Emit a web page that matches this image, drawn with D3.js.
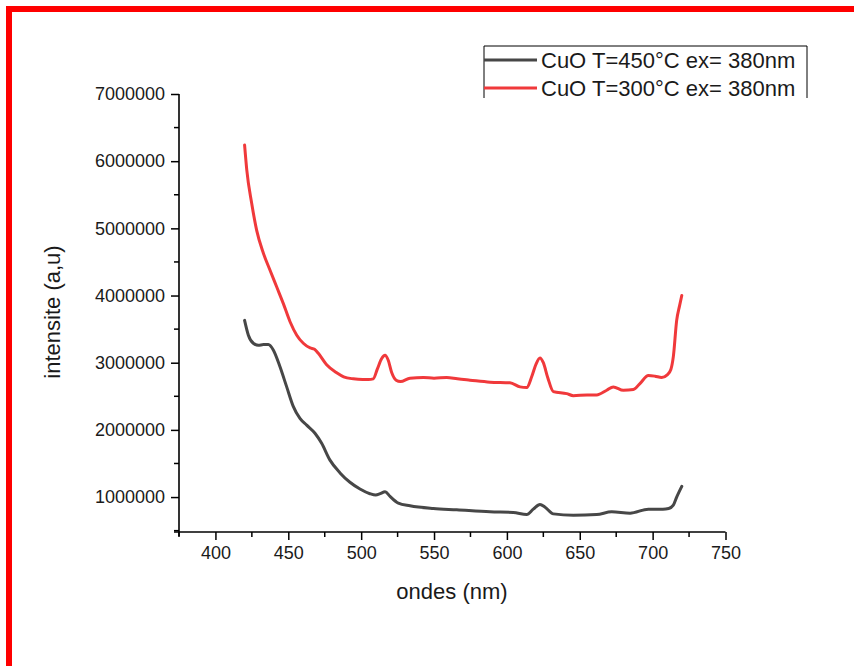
<!DOCTYPE html>
<html>
<head>
<meta charset="utf-8">
<script src="https://cdn.jsdelivr.net/npm/d3@7"></script>
<style>
  body { margin: 0; background: #fff; }
  svg { display: block; font-family: "Liberation Sans", Arial, sans-serif; }
</style>
</head>
<body>
<svg id="chart" width="854" height="666"></svg>
<script>
// wavelength (nm) and intensity
const wave450 = [420, 422.6, 426, 429.4, 433, 436.3, 439.7, 444.3, 448.9, 453.4, 458, 462.6, 468.3, 472.9, 478.6, 485.5, 492.3, 499.2, 506, 510, 513, 516.4, 519.8, 525.5, 533.5, 549.5, 565.6, 588.4, 604.4, 613.6, 618.1, 622.7, 626.2, 631.9, 645.6, 661.6, 671.9, 684.5, 697.1, 707, 711, 714.2, 716.5, 720];
const int450 = [3630000, 3410000, 3290000, 3260000, 3270000, 3270000, 3190000, 2940000, 2640000, 2350000, 2170000, 2070000, 1950000, 1800000, 1550000, 1360000, 1220000, 1120000, 1050000, 1030000, 1050000, 1080000, 1010000, 910000, 870000, 830000, 810000, 780000, 770000, 740000, 820000, 890000, 850000, 750000, 730000, 740000, 780000, 760000, 820000, 820000, 830000, 880000, 1000000, 1160000];

const wave300 = [420, 421.5, 424.9, 428.3, 432.9, 437.4, 442, 446.6, 451.2, 455.8, 460.3, 465, 468, 470.6, 476.3, 483.2, 488, 494.6, 501, 505, 508.3, 511, 514, 516.4, 518.5, 521, 524, 527, 533.5, 542.7, 550, 558.7, 566, 574.7, 588.4, 602.1, 609, 613.6, 617, 620, 622.7, 625, 628, 631.9, 641, 645.6, 655, 661.6, 668.5, 673, 679.9, 686.8, 691.3, 697.1, 701.6, 706.2, 710, 712.5, 714.2, 716.5, 718.5, 720];
const int300 = [6240000, 5870000, 5370000, 4970000, 4630000, 4380000, 4130000, 3880000, 3610000, 3410000, 3290000, 3220000, 3200000, 3140000, 2970000, 2850000, 2790000, 2760000, 2750000, 2750000, 2760000, 2900000, 3060000, 3110000, 3040000, 2850000, 2740000, 2720000, 2770000, 2780000, 2770000, 2780000, 2760000, 2740000, 2710000, 2700000, 2640000, 2630000, 2790000, 2980000, 3070000, 3000000, 2780000, 2570000, 2540000, 2510000, 2520000, 2520000, 2590000, 2640000, 2590000, 2600000, 2690000, 2810000, 2800000, 2780000, 2820000, 2900000, 3090000, 3630000, 3850000, 4000000];

const seriesNames = ["CuO T=450°C ex= 380nm", "CuO T=300°C ex= 380nm"];
const seriesColors = ["#474747", "#f0393b"];
const xTicks = [400, 450, 500, 550, 600, 650, 700, 750];
const yTicks = [1000000, 2000000, 3000000, 4000000, 5000000, 6000000, 7000000];

const svg = d3.select("#chart");

// red frame (left and top only)
svg.append("rect").attr("x", 6).attr("y", 6).attr("width", 6).attr("height", 660).attr("fill", "#ff0000");
svg.append("rect").attr("x", 6).attr("y", 6).attr("width", 848).attr("height", 6).attr("fill", "#ff0000");

const x = d3.scaleLinear().domain([375, 750]).range([179, 725.5]);
const y = d3.scaleLinear().domain([480000, 7000000]).range([532, 94]);

const series = [
  { name: seriesNames[0], color: seriesColors[0], pts: wave450.map((w, i) => [w, int450[i]]) },
  { name: seriesNames[1], color: seriesColors[1], pts: wave300.map((w, i) => [w, int300[i]]) }
];

const line = d3.line()
  .x(d => x(d[0]))
  .y(d => y(d[1]))
  .curve(d3.curveMonotoneX);

series.forEach(s => {
  svg.append("path")
    .attr("d", line(s.pts))
    .attr("fill", "none")
    .attr("stroke", s.color)
    .attr("stroke-width", 3)
    .attr("stroke-linejoin", "round")
    .attr("stroke-linecap", "round");
});

// axes
const xAxis = d3.axisBottom(x).tickValues(xTicks).tickSize(8).tickSizeOuter(0).tickPadding(6);
const yAxis = d3.axisLeft(y).tickValues(yTicks).tickSize(8).tickSizeOuter(0).tickPadding(6).tickFormat(d3.format("d"));

const gx = svg.append("g").attr("transform", "translate(0,532)").call(xAxis);
const gy = svg.append("g").attr("transform", "translate(179,0)").call(yAxis);

// minor ticks
const xMinor = d3.range(375, 750, 50);
const yMinor = d3.range(500000, 7000000, 1000000).filter(v => v > 480000);
gx.selectAll(".minor").data(xMinor).join("line")
  .attr("x1", d => x(d)).attr("x2", d => x(d)).attr("y1", 0).attr("y2", 5)
  .attr("stroke", "#000").attr("stroke-width", 1.5);
gy.selectAll(".minor").data(yMinor).join("line")
  .attr("y1", d => y(d)).attr("y2", d => y(d)).attr("x1", 0).attr("x2", -5)
  .attr("stroke", "#000").attr("stroke-width", 1.5);

[gx, gy].forEach(g => {
  g.select(".domain").remove();
  g.selectAll(".tick line").attr("stroke", "#000").attr("stroke-width", 1.5);
  g.selectAll(".tick text").attr("font-size", 18).attr("fill", "#1a1a1a")
    .attr("font-family", "'Liberation Sans', Arial, sans-serif");
});

// axis lines with small overshoot
svg.append("line").attr("x1", 174).attr("x2", x(750)).attr("y1", 532).attr("y2", 532)
  .attr("stroke", "#000").attr("stroke-width", 1.6);
svg.append("line").attr("x1", 179).attr("x2", 179).attr("y1", y(7000000)).attr("y2", 536)
  .attr("stroke", "#000").attr("stroke-width", 1.6);

// axis titles
svg.append("text").attr("x", 452).attr("y", 599).attr("text-anchor", "middle")
  .attr("font-size", 22).attr("fill", "#1a1a1a").text("ondes (nm)");
svg.append("text").attr("transform", "translate(60,312) rotate(-90)").attr("text-anchor", "middle")
  .attr("font-size", 22).attr("fill", "#1a1a1a").text("intensite (a,u)");

// legend
const lg = svg.append("g");
lg.append("path").attr("d", "M484,98 V46 H807 V98").attr("fill", "none").attr("stroke", "#000").attr("stroke-width", 1);
series.forEach((s, i) => {
  const cy = 60 + i * 28;
  lg.append("line").attr("x1", 484).attr("x2", 537).attr("y1", cy).attr("y2", cy)
    .attr("stroke", s.color).attr("stroke-width", 3);
  lg.append("text").attr("x", 541).attr("y", cy + 8).attr("font-size", 22).attr("fill", "#1a1a1a").text(s.name);
});
</script>
</body>
</html>
